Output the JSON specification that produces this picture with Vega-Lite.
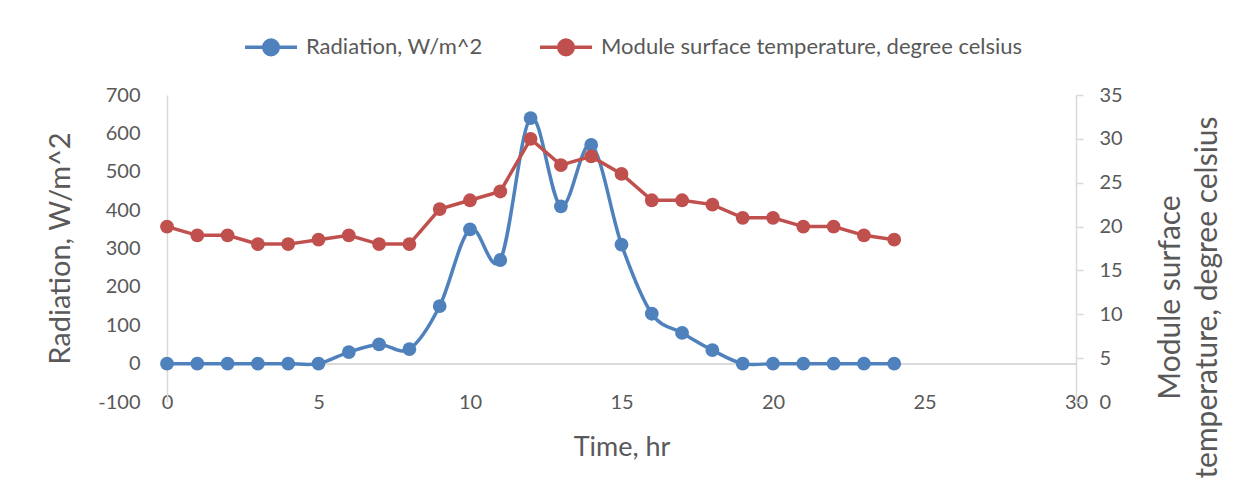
{
  "$schema": "https://vega.github.io/schema/vega-lite/v6.json",
  "width": 909,
  "height": 307,
  "autosize": "none",
  "padding": {"left": 167, "top": 95, "right": 176, "bottom": 91},
  "background": "white",
  "config": {
    "font": "Lato",
    "view": {"stroke": null},
    "axis": {"labelColor": "#595959", "titleColor": "#595959", "labelFont": "Lato", "titleFont": "Lato", "titleFontWeight": "normal", "grid": false}
  },
  "data": {
    "values": [
      {"hour": 0, "radiation": 0, "temperature": 20},
      {"hour": 1, "radiation": 0, "temperature": 19},
      {"hour": 2, "radiation": 0, "temperature": 19},
      {"hour": 3, "radiation": 0, "temperature": 18},
      {"hour": 4, "radiation": 0, "temperature": 18},
      {"hour": 5, "radiation": 0, "temperature": 18.5},
      {"hour": 6, "radiation": 30, "temperature": 19},
      {"hour": 7, "radiation": 50, "temperature": 18},
      {"hour": 8, "radiation": 38, "temperature": 18},
      {"hour": 9, "radiation": 150, "temperature": 22},
      {"hour": 10, "radiation": 350, "temperature": 23},
      {"hour": 11, "radiation": 270, "temperature": 24},
      {"hour": 12, "radiation": 640, "temperature": 30},
      {"hour": 13, "radiation": 410, "temperature": 27},
      {"hour": 14, "radiation": 570, "temperature": 28},
      {"hour": 15, "radiation": 310, "temperature": 26},
      {"hour": 16, "radiation": 130, "temperature": 23},
      {"hour": 17, "radiation": 80, "temperature": 23},
      {"hour": 18, "radiation": 35, "temperature": 22.5},
      {"hour": 19, "radiation": 0, "temperature": 21},
      {"hour": 20, "radiation": 0, "temperature": 21},
      {"hour": 21, "radiation": 0, "temperature": 20},
      {"hour": 22, "radiation": 0, "temperature": 20},
      {"hour": 23, "radiation": 0, "temperature": 19},
      {"hour": 24, "radiation": 0, "temperature": 18.5}
    ]
  },
  "encoding": {
    "x": {
      "field": "hour", "type": "quantitative",
      "scale": {"domain": [0, 30], "nice": false, "zero": false},
      "axis": {
        "values": [0, 5, 10, 15, 20, 25, 30],
        "domain": false, "ticks": false, "tickSize": 0,
        "labelPadding": 0, "labelBaseline": "middle", "labelFontSize": 20,
        "labelFlush": false,
        "title": "Time, hr", "titleFontSize": 27, "titleY": 45, "titleBaseline": "middle"
      }
    }
  },
  "layer": [
    {
      "encoding": {
        "y": {
          "field": "radiation", "type": "quantitative",
          "scale": {"domain": [-100, 700], "nice": false, "zero": false},
          "axis": {
            "orient": "left",
            "values": [-100, 0, 100, 200, 300, 400, 500, 600, 700],
            "labelExpr": "replace(datum.label, '\u2212', '-')",
            "ticks": false, "tickSize": 0, "domainColor": "#D9D9D9", "domainWidth": 1.5,
            "labelPadding": 27, "labelFontSize": 20, "labelBaseline": "middle",
            "title": "Radiation, W/m^2", "titleFontSize": 29,
            "titleAngle": 270, "titleX": -107, "titleY": 153, "titleBaseline": "middle", "titleAlign": "center"
          }
        }
      },
      "layer": [
        {
          "mark": {"type": "rule", "color": "#D9D9D9", "strokeWidth": 1.5},
          "encoding": {"y": {"datum": 0}, "x": {"value": 0}, "x2": {"value": 909}}
        },
        {
          "mark": {"type": "line", "interpolate": "cardinal", "strokeWidth": 3.5},
          "encoding": {
            "color": {
              "datum": "Radiation, W/m^2",
              "scale": {
                "domain": ["Radiation, W/m^2", "Module surface temperature, degree celsius"],
                "range": ["#4F81BD", "#C0504D"]
              },
              "legend": {
                "orient": "none", "legendX": 76, "legendY": -76,
                "direction": "horizontal", "title": null,
                "symbolType": "M-1,0H1M0.28,0A0.28,0.28,0,1,1,-0.28,0A0.28,0.28,0,1,1,0.28,0Z",
                "symbolSize": 2704, "symbolStrokeWidth": 3.5,
                "labelFont": "Lato", "labelFontSize": 22, "labelColor": "#595959",
                "labelLimit": 0,
                "labelOffset": 7, "columnPadding": 50,
                "encode": {
                  "symbols": {
                    "update": {
                      "fill": {"scale": "color", "field": "value"},
                      "stroke": {"scale": "color", "field": "value"},
                      "opacity": {"value": 1}
                    }
                  }
                }
              }
            }
          }
        },
        {
          "mark": {"type": "circle", "size": 190, "opacity": 1},
          "encoding": {"color": {"datum": "Radiation, W/m^2"}}
        }
      ]
    },
    {
      "encoding": {
        "y": {
          "field": "temperature", "type": "quantitative",
          "scale": {"domain": [0, 35], "nice": false, "zero": false},
          "axis": {
            "orient": "right",
            "values": [0, 5, 10, 15, 20, 25, 30, 35],
            "ticks": true, "tickSize": 7, "tickColor": "#D9D9D9", "tickWidth": 1.5,
            "domainColor": "#D9D9D9", "domainWidth": 1.5,
            "labelPadding": 16, "labelFontSize": 20, "labelBaseline": "middle",
            "title": ["Module surface", "temperature, degree celsius"], "titleFontSize": 30,
            "titleLineHeight": 37,
            "titleAngle": 270, "titleX": 94, "titleY": 202, "titleBaseline": "middle", "titleAlign": "center"
          }
        }
      },
      "layer": [
        {
          "mark": {"type": "line", "strokeWidth": 3.5},
          "encoding": {"color": {"datum": "Module surface temperature, degree celsius"}}
        },
        {
          "mark": {"type": "circle", "size": 190, "opacity": 1},
          "encoding": {"color": {"datum": "Module surface temperature, degree celsius"}}
        }
      ]
    }
  ],
  "resolve": {"scale": {"y": "independent"}}
}
